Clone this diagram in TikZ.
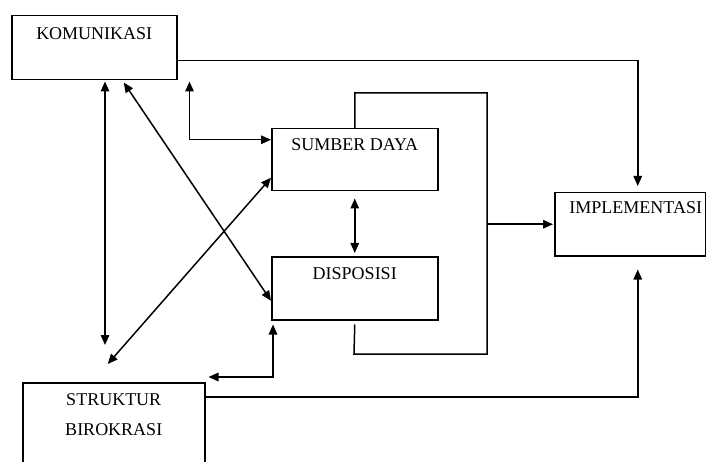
\documentclass[tikz,border=0pt]{standalone}
\usepackage{fontspec}
\setmainfont{Liberation Serif}
\usetikzlibrary{arrows.meta}
\begin{document}
\begin{tikzpicture}[x=1pt,y=-1pt,
 box/.style={draw, line width=1.5pt, rectangle, inner sep=0pt, anchor=north west},
 lbl/.style={anchor=north, inner sep=0pt, font=\fontsize{18}{30}\selectfont, align=center},
 conn/.style={line width=1.5pt},
 arr/.style={conn, -{Triangle[length=10pt,width=8.5pt]}},
 barr/.style={conn, {Triangle[length=10pt,width=8.5pt]}-{Triangle[length=10pt,width=8.5pt]}}]
\useasboundingbox (0,0) rectangle (706,462);
\clip (0,0) rectangle (706,462);
\fill[white] (0,0) rectangle (706,462);

% boxes
\node[box, minimum width=165pt, minimum height=64pt] (kom) at (11,15) {};
\node[box, minimum width=166pt, minimum height=62pt] (sd) at (271,128) {};
\node[box, minimum width=166pt, minimum height=63pt] (dis) at (271,256) {};
\node[box, minimum width=151pt, minimum height=63pt] (impl) at (554,192) {};
\node[box, minimum width=182pt, minimum height=100pt] (stru) at (22,382) {};

% labels
\node[lbl] (komt) at ([yshift=-12pt]kom.north) {KOMUNIKASI};
\node[lbl] (sdt) at ([yshift=-10.6pt]sd.north) {SUMBER DAYA};
\node[lbl] (dist) at ([yshift=-11pt]dis.north) {DISPOSISI};
\node[lbl] (implt) at ([xshift=5.5pt,yshift=-9.6pt]impl.north) {IMPLEMENTASI};
\node[lbl] (strut) at ([yshift=-11pt]stru.north) {STRUKTUR\\BIROKRASI};

% helper coordinates
\coordinate (lr) at (487,93);
\coordinate (lb) at (354,354);
\coordinate (vx) at (105,0);

% connectors
\draw[arr, shorten >=6pt] ([yshift=-13pt]kom.east) -| ([xshift=7.5pt]impl.north);
\draw[arr, shorten >=13pt] ([yshift=-15pt]stru.north east) -| ([xshift=7.5pt]impl.south);
\draw[barr, shorten <=7pt, shorten >=3pt] (sd.south) -- (dis.north);
\draw[conn] (sd.north) |- (lr) |- (lb) -- ([yshift=-4pt]dis.south);
\draw[arr, shorten >=1pt] (impl.west -| lr) -- (impl.west);
\draw[barr, shorten <=1pt, shorten >=37pt] (kom.south -| vx) -- (stru.north -| vx);
\draw[barr] ([xshift=29.5pt,yshift=-2pt]kom.south) -- ([yshift=-12.5pt]dis.west);
\draw[barr] ([yshift=-18pt]sd.west) -- ([xshift=-6pt,yshift=18pt]stru.north);
\draw[barr] ([xshift=12pt,yshift=-1pt]kom.south east) |- ([yshift=20pt]sd.west);
\draw[barr] ([xshift=2pt,yshift=-4pt]dis.south west) |- ([xshift=3pt,yshift=5pt]stru.north east);
\end{tikzpicture}
\end{document}
